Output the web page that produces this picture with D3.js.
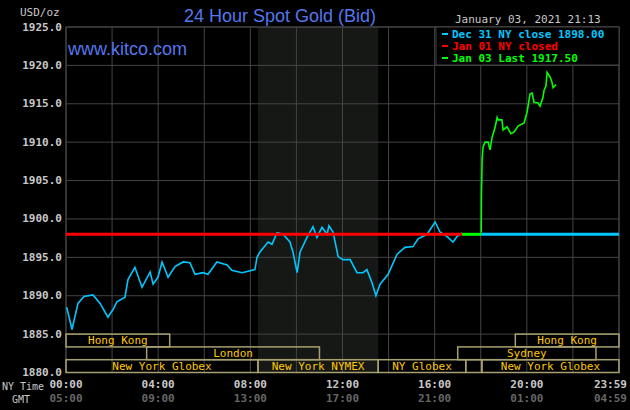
<!DOCTYPE html>
<html><head><meta charset="utf-8">
<script src="https://cdn.jsdelivr.net/npm/d3@7"></script>
<style>body{margin:0;background:#000}svg{display:block}</style></head>
<body><svg id="c" width="630" height="410"></svg>
<script>
const yTicks=[1925,1920,1915,1910,1905,1900,1895,1890,1885,1880];
const nyLabels=["00:00","04:00","08:00","12:00","16:00","20:00","23:59"];
const gmtLabels=["05:00","09:00","13:00","17:00","21:00","01:00","04:59"];
const labelHours=[0,4,8,12,16,20,23.98];
const prevHours=[0.03,0.26,0.52,0.78,1.17,1.48,1.82,2.04,2.21,2.56,2.69,2.99,3.30,3.65,3.78,3.99,4.17,4.43,4.73,5.08,5.38,5.60,5.95,6.16,6.55,6.99,7.20,7.64,8.20,8.29,8.42,8.77,8.94,9.16,9.42,9.72,9.85,10.03,10.16,10.46,10.72,10.89,11.11,11.33,11.41,11.59,11.81,12.02,12.33,12.63,12.89,13.06,13.28,13.45,13.63,13.98,14.37,14.71,15.06,15.28,15.67,16.02,16.23,16.54,16.80,16.97,17.19];
const prevPrices=[1888.5,1885.6,1889.0,1889.9,1890.1,1889.0,1887.2,1888.2,1889.2,1889.8,1892.1,1893.7,1891.1,1893.1,1891.5,1892.4,1894.4,1892.4,1893.8,1894.4,1894.3,1892.8,1893.0,1892.8,1894.4,1894.0,1893.3,1893.0,1893.4,1895.0,1895.7,1897.0,1896.7,1898.2,1898.0,1897.0,1895.7,1893.0,1895.7,1897.6,1899.0,1897.6,1898.9,1898.0,1899.1,1898.3,1895.1,1894.7,1894.7,1893.0,1893.0,1893.4,1891.7,1890.0,1891.5,1892.8,1895.4,1896.3,1896.4,1897.4,1898.0,1899.6,1898.3,1897.7,1897.0,1897.7,1898.2];
const lastHours=[18.02,18.03,18.06,18.10,18.19,18.32,18.40,18.49,18.62,18.71,18.75,18.92,18.97,19.14,19.31,19.44,19.62,19.88,20.01,20.14,20.23,20.31,20.49,20.57,20.70,20.75,20.83,20.88,21.01,21.09,21.14,21.27];
const lastPrices=[1898.2,1903.2,1907.7,1909.4,1910.0,1910.0,1909.0,1910.6,1911.9,1913.2,1912.9,1912.9,1911.6,1912.0,1911.1,1911.3,1912.1,1912.5,1913.9,1916.3,1916.4,1915.2,1915.1,1914.7,1915.8,1916.8,1917.3,1919.1,1918.5,1917.8,1917.1,1917.5];
const closePrice=1898.0;
const sessionNames=["Hong Kong","Hong Kong","London","Sydney","New York Globex","New York NYMEX","NY Globex","","New York Globex"];
const sessionStart=[0,19.5,3.5,17.0,0,8.33,13.55,17.35,18.05];
const sessionEnd=[4.5,24,11.0,23.0,8.33,13.55,17.35,18.05,24];
const sessionRow=[0,0,1,1,2,2,2,2,2];
const shadeStart=8.33, shadeEnd=13.55, closeEnd=17.19, gapEnd=18.02;

const svg=d3.select("#c");
const x=d3.scaleLinear().domain([0,24]).range([66,619]);
const y=d3.scaleLinear().domain([1880,1925]).range([372.5,27]);
const mono="'DejaVu Sans Mono',monospace";
svg.append("rect").attr("width",630).attr("height",410).attr("fill","#000");
svg.append("rect").attr("x",x(shadeStart)).attr("y",y(1925)).attr("width",x(shadeEnd)-x(shadeStart)).attr("height",y(1880)-y(1925)).attr("fill","#151815");
const g=svg.append("g").attr("stroke","#444").attr("stroke-width",1);
d3.range(0,25,2).forEach(h=>g.append("line").attr("x1",x(h)).attr("x2",x(h)).attr("y1",y(1925)).attr("y2",y(1880)));
yTicks.forEach(v=>g.append("line").attr("x1",x(0)).attr("x2",x(24)).attr("y1",y(v)).attr("y2",y(v)));
g.append("rect").attr("x",x(0)).attr("y",y(1925)).attr("width",x(24)-x(0)).attr("height",y(1880)-y(1925)).attr("fill","none");
yTicks.forEach(v=>svg.append("text").attr("x",62).attr("y",y(v)+3.5).attr("text-anchor","end").attr("fill","#c8c8c8").attr("font-family",mono).attr("font-weight","bold").attr("font-size",11).text(d3.format(".1f")(v)));
svg.append("text").attr("x",20).attr("y",16).attr("fill","#c8c8c8").attr("font-family",mono).attr("font-size",11).text("USD/oz");
labelHours.forEach((h,i)=>{
  const last=i===labelHours.length-1;
  const xx=last?627:x(h), anc=last?"end":"middle";
  svg.append("text").attr("x",xx).attr("y",388).attr("text-anchor",anc).attr("fill","#c8c8c8").attr("font-family",mono).attr("font-weight","bold").attr("font-size",11).text(nyLabels[i]);
  svg.append("text").attr("x",xx).attr("y",402).attr("text-anchor",anc).attr("fill","#666").attr("font-family",mono).attr("font-weight","bold").attr("font-size",11).text(gmtLabels[i]);
});
svg.append("text").attr("x",2).attr("y",390).attr("fill","#c8c8c8").attr("font-family",mono).attr("font-size",10).text("NY Time");
svg.append("text").attr("x",12).attr("y",403).attr("fill","#c8c8c8").attr("font-family",mono).attr("font-size",10).text("GMT");
const rowH=5/3;
sessionNames.forEach((n,i)=>{
  const top=1885-sessionRow[i]*rowH, bot=top-rowH;
  svg.append("rect").attr("x",x(sessionStart[i])).attr("y",y(top)).attr("width",x(sessionEnd[i])-x(sessionStart[i])).attr("height",y(bot)-y(top)).attr("fill","none").attr("stroke","#a8a070").attr("stroke-width",1.5);
  svg.append("text").attr("x",(x(sessionStart[i])+x(sessionEnd[i]))/2).attr("y",(y(top)+y(bot))/2+3.5).attr("text-anchor","middle").attr("fill","#ffc800").attr("font-family",mono).attr("font-size",11).text(n);
});
const line=d3.line().x(d=>x(d[0])).y(d=>y(d[1]));
svg.append("path").datum(prevHours.map((h,i)=>[h,prevPrices[i]])).attr("d",line).attr("fill","none").attr("stroke","#00c8ff").attr("stroke-width",1.6);
svg.append("line").attr("x1",x(0)).attr("x2",x(closeEnd)).attr("y1",y(closePrice)).attr("y2",y(closePrice)).attr("stroke","#ff0000").attr("stroke-width",3);
svg.append("line").attr("x1",x(closeEnd)).attr("x2",x(gapEnd)).attr("y1",y(closePrice)).attr("y2",y(closePrice)).attr("stroke","#00ff00").attr("stroke-width",3);
svg.append("line").attr("x1",x(gapEnd)).attr("x2",x(24)).attr("y1",y(closePrice)).attr("y2",y(closePrice)).attr("stroke","#00c8ff").attr("stroke-width",3);
svg.append("path").datum(lastHours.map((h,i)=>[h,lastPrices[i]])).attr("d",line).attr("fill","none").attr("stroke","#00ff00").attr("stroke-width",1.6);
svg.append("text").attr("x",280).attr("y",22).attr("text-anchor","middle").attr("fill","#5577ee").attr("font-family","'Liberation Sans',Arial").attr("font-size",18).text("24 Hour Spot Gold (Bid)");
svg.append("text").attr("x",68).attr("y",55).attr("fill","#5577ee").attr("font-family","'Liberation Sans',Arial").attr("font-size",18).text("www.kitco.com");
svg.append("text").attr("x",455).attr("y",23).attr("fill","#c8c8c8").attr("font-family",mono).attr("font-size",11).text("January 03, 2021 21:13");
svg.append("rect").attr("x",436).attr("y",y(1925)).attr("width",x(24)-436).attr("height",38).attr("fill","#000").attr("stroke","#444");
const lg=[["Dec 31 NY close 1898.00","#00c8ff"],["Jan 01 NY closed","#ff0000"],["Jan 03 Last 1917.50","#00ff00"]];
lg.forEach((d,i)=>{
  svg.append("rect").attr("x",442).attr("y",33+i*12).attr("width",6).attr("height",2).attr("fill",d[1]);
  svg.append("text").attr("x",452).attr("y",38+i*12).attr("fill",d[1]).attr("font-family",mono).attr("font-weight","bold").attr("font-size",11).text(d[0]);
});
</script></body></html>
